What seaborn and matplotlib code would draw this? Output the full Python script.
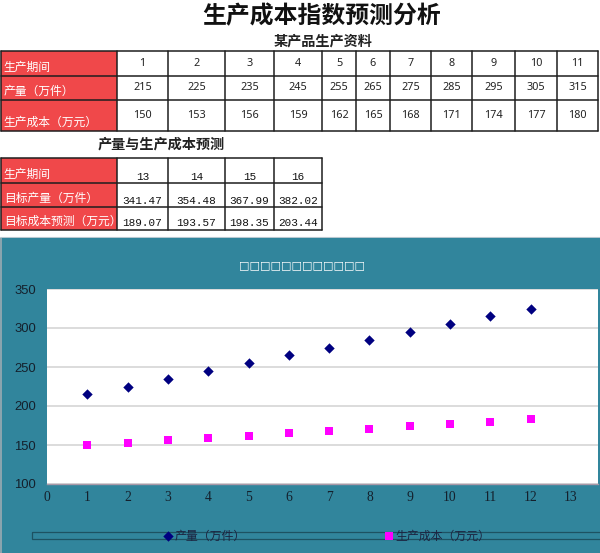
import numpy as np
import pandas as pd
import matplotlib
matplotlib.use("Agg")
import matplotlib.pyplot as plt
from matplotlib.patches import Rectangle
import seaborn as sns

# ---------------- data ----------------
periods = [1, 2, 3, 4, 5, 6, 7, 8, 9, 10, 11, 12]
output = [215, 225, 235, 245, 255, 265, 275, 285, 295, 305, 315, 325]
cost = [150, 153, 156, 159, 162, 165, 168, 171, 174, 177, 180, 183]
table_cols_shown = 11

fc_periods = [13, 14, 15, 16]
fc_output = [341.47, 354.48, 367.99, 382.02]
fc_cost = [189.07, 193.57, 198.35, 203.44]

title_main = "生产成本指数预测分析"
title_t1 = "某产品生产资料"
title_t2 = "产量与生产成本预测"
labels_t1 = ["生产期间", "产量（万件）", "生产成本（万元）"]
labels_t2 = ["生产期间", "目标产量（万件）", "目标成本预测（万元）"]
chart_title = "□" * 12
series_names = ["产量（万件）", "生产成本（万元）"]
yticks = [100, 150, 200, 250, 300, 350]
xticks = list(range(0, 14))

# ---------------- style ----------------
sns.set_style("white")
plt.rcParams["font.family"] = ["Noto Sans CJK SC", "DejaVu Sans"]

W, H = 600, 553
fig = plt.figure(figsize=(W / 100, H / 100), dpi=100)
fig.patch.set_facecolor("white")

# overlay axes in pixel coordinates (for tables and background)
ov = fig.add_axes([0, 0, 1, 1], zorder=0)
ov.set_xlim(0, W)
ov.set_ylim(H, 0)
ov.axis("off")

RED = "#F0484A"
TEAL = "#31859C"
GRID = "#1e1e1e"

ov.text(322, 16, title_main, ha="center", va="center", fontsize=17.2,
        fontweight="bold", color="#111111")
ov.text(323, 42, title_t1, ha="center", va="center", fontsize=10.2,
        fontweight="bold", color="#222222")
ov.text(161, 145, title_t2, ha="center", va="center", fontsize=10.2,
        fontweight="bold", color="#222222")


def draw_table(xb, yb, labels, rows, val_font, val_size, val_valign):
    for r in range(len(labels)):
        y0, y1 = yb[r], yb[r + 1]
        ov.add_patch(Rectangle((xb[0], y0), xb[1] - xb[0], y1 - y0,
                               facecolor=RED, edgecolor="none", zorder=1))
        clip = Rectangle((xb[0], y0), xb[1] - xb[0], y1 - y0,
                         transform=ov.transData, facecolor="none", edgecolor="none")
        ov.add_patch(clip)
        t = ov.text(xb[0] + 3, y1 - 2, labels[r], ha="left", va="bottom",
                    fontsize=8.5, color="white", zorder=3)
        t.set_clip_path(clip)
        for c, v in enumerate(rows[r]):
            xc = (xb[c + 1] + xb[c + 2]) / 2
            if val_valign == "center":
                ov.text(xc, (y0 + y1) / 2, v, ha="center", va="center",
                        fontsize=val_size, family=val_font, color="#222222", zorder=3)
            else:
                ov.text(xc, y1 - 1.5, v, ha="center", va="bottom",
                        fontsize=val_size, family=val_font, color="#111111", zorder=3)
    for x in xb:
        ov.plot([x, x], [yb[0], yb[-1]], color=GRID, lw=1.1, zorder=4)
    for y in yb:
        ov.plot([xb[0], xb[-1]], [y, y], color=GRID, lw=1.1, zorder=4)


n = table_cols_shown
rows1 = [[str(v) for v in periods[:n]],
         [str(v) for v in output[:n]],
         [str(v) for v in cost[:n]]]
xb1 = [0.8, 117, 168, 225, 274, 322, 356, 390, 431, 472, 515, 557, 598]
yb1 = [51, 76, 100, 131]
draw_table(xb1, yb1, labels_t1, rows1, "Noto Sans", 7.8, "center")

rows2 = [[str(v) for v in fc_periods],
         [f"{v:.2f}" for v in fc_output],
         [f"{v:.2f}" for v in fc_cost]]
xb2 = [0.8, 117, 168, 225, 274, 322]
yb2 = [158, 183, 207, 230]
draw_table(xb2, yb2, labels_t2, rows2, "Liberation Mono", 7.9, "bottom")

# chart background
ov.plot([0, W], [236.5, 236.5], color="#b8c8d0", lw=0.8, zorder=1)
ov.add_patch(Rectangle((0, 238), W, H - 238, facecolor=TEAL, edgecolor="none", zorder=1))
ov.add_patch(Rectangle((0, 238), 2, H - 238, facecolor="#8aa4ae", edgecolor="none", zorder=1))
ov.text(302.5, 265, chart_title, ha="center", va="center", fontsize=8.0,
        family="DejaVu Sans", color="white", zorder=3)
ov.add_patch(Rectangle((32, 532), 600, 7, facecolor="none", edgecolor="#1d5262",
                       lw=0.9, zorder=3))

# ---------------- chart ----------------
left, right, top, bottom = 47, 598, 289, 484
ax = fig.add_axes([left / W, (H - bottom) / H, (right - left) / W, (bottom - top) / H],
                  zorder=2)
ax.set_facecolor("white")

df = pd.DataFrame({"period": periods, "output": output, "cost": cost})
sns.scatterplot(data=df, x="period", y="output", marker="D", color="#000080",
                s=28, linewidth=0, ax=ax, label=series_names[0], zorder=3)
sns.scatterplot(data=df, x="period", y="cost", marker="s", color="#FF00FF",
                s=34, linewidth=0, ax=ax, label=series_names[1], zorder=3)

ax.set_xlim(0, 13.67)
ax.set_ylim(100, 350)
ax.set_xticks(xticks)
ax.set_yticks(yticks)
ax.set_xlabel("")
ax.set_ylabel("")
ax.yaxis.grid(True, color="#d2d2d2", lw=1.1)
ax.set_axisbelow(True)
for s in ["top", "right", "left"]:
    ax.spines[s].set_visible(False)
ax.spines["bottom"].set_color("#a898a8")
ax.spines["bottom"].set_linewidth(1.0)
ax.tick_params(axis="x", direction="in", length=3, width=0.8, color="#a0a0a0",
               pad=5, labelsize=9.8, labelcolor="#14202c")
ax.tick_params(axis="y", length=0, pad=8, labelsize=9.4, labelcolor="#14202c")
for lab in ax.get_xticklabels():
    lab.set_family("Liberation Serif")
for lab in ax.get_yticklabels():
    lab.set_family("Liberation Sans")

leg = ax.legend(loc="center", bbox_to_anchor=(327 / W, (H - 536) / H),
                bbox_transform=fig.transFigure, ncol=2, frameon=False,
                fontsize=8.6, handlelength=0.7, handletextpad=0.2,
                columnspacing=11.6, borderaxespad=0, borderpad=0)
for t in leg.get_texts():
    t.set_color("#1c2440")

fig.savefig("out.png", dpi=100)
